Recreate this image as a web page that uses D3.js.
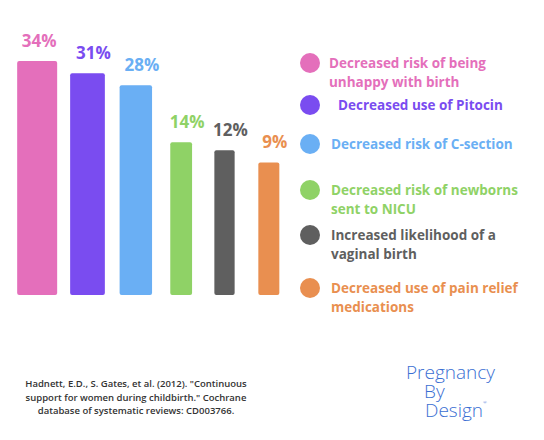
<!DOCTYPE html>
<html><head><meta charset="utf-8">
<script src="https://cdn.jsdelivr.net/npm/d3@7"></script>
<style>body{margin:0;background:#fff}</style>
</head><body>
<svg id="c" width="544" height="440"></svg>
<script>
const categories = ["Decreased risk of being|unhappy with birth","Decreased use of Pitocin","Decreased risk of C-section","Decreased risk of newborns|sent to NICU","Increased likelihood of a|vaginal birth","Decreased use of pain relief|medications"];
const values = [34,31,28,14,12,9];
const valueLabels = ["34%","31%","28%","14%","12%","9%"];
const colors = ["#e46fbb","#7a4cf0","#6aaff4","#8fd266","#5f5f5f","#e98f50"];
const legendY = [63,105,144,190,235,288];
const legendDx = [0,9,2,2,2,2];
const citation = ["Hadnett, E.D., S. Gates, et al. (2012). \"Continuous","support for women during childbirth.\" Cochrane","database of systematic reviews: CD003766."];
const logo = ["Pregnancy","By","Design"];

const svg = d3.select("#c");
const base = 295;
const x = d3.scaleBand().domain(d3.range(values.length)).range([14,292]).padding(0);
const h = d3.scaleLinear().domain([0,34]).range([96,234]);
const w = d3.scaleLinear().domain([9,34]).range([21,40]);
const font = "'Open Sans', sans-serif";

values.forEach((v,i)=>{
  const cx = x(i)+x.bandwidth()/2 + [0,4,6,5,2,0][i], bw = w(v) - (i>0&&i<5?3:0), top = base - h(v);
  svg.append("rect").attr("x",cx-bw/2).attr("y",top).attr("width",bw).attr("height",h(v))
    .attr("rx",2).attr("fill",colors[i]);
  svg.append("text").attr("x",cx+(i>0?6:2)).attr("y",top-14).attr("text-anchor","middle")
    .attr("font-family",font).attr("font-weight",700).attr("font-size",17).attr("fill",colors[i])
    .text(valueLabels[i]);
});

categories.forEach((c,i)=>{
  const y = legendY[i];
  svg.append("circle").attr("cx",310).attr("cy",y).attr("r",10).attr("fill",colors[i]);
  c.split("|").forEach((l,j)=>{
    svg.append("text").attr("x",329+legendDx[i]).attr("y",y+5+j*19)
      .attr("font-family",font).attr("font-weight",700).attr("font-size",13.5)
      .attr("fill",colors[i]).text(l);
  });
});

citation.forEach((t,j)=>{
  svg.append("text").attr("x",136).attr("y",387+j*13.5).attr("text-anchor","middle")
    .attr("font-family",font).attr("font-weight",600).attr("font-size",9.5).attr("fill","#333").text(t);
});
logo.forEach((t,j)=>{
  svg.append("text").attr("x",j==0?406:(j==1?424:425)).attr("y",379+j*19)
    .attr("font-family",font).attr("font-weight",300).attr("font-size",19).attr("fill","#3b6fd3").text(t);
});
svg.append("text").attr("x",483).attr("y",404).attr("font-size",5).attr("fill","#3b6fd3").text("®");
</script>
</body></html>
